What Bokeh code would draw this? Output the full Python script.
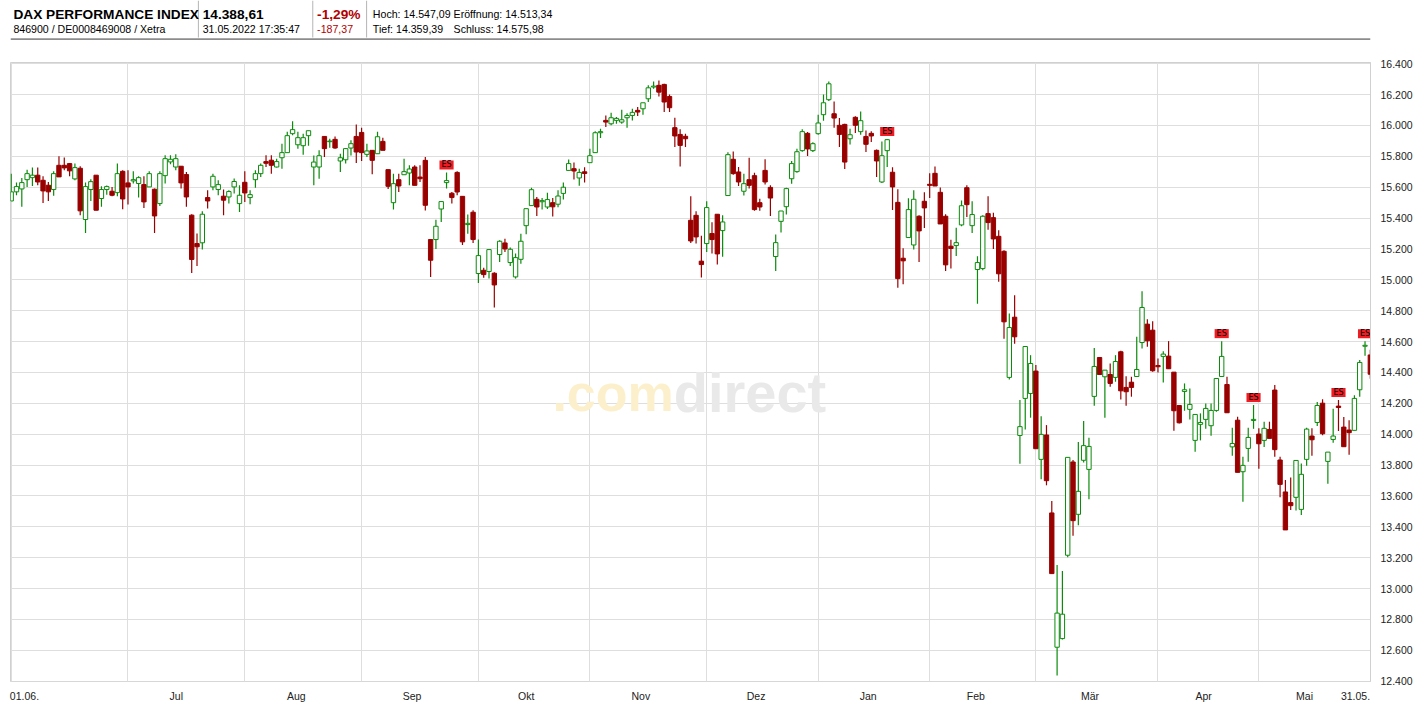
from bokeh.plotting import figure
from bokeh.models import Range1d, FixedTicker, ColumnDataSource
from bokeh.layouts import column
from bokeh.embed import file_html
from bokeh.resources import INLINE
from bokeh.core.properties import value

# ---------------- data (trading days 01.06.2021 - 31.05.2022) ----------------
open_ = [15511, 15570, 15589, 15649, 15662, 15678, 15645, 15613, 15585, 15742,
         15742, 15753, 15654, 15723, 15391, 15585, 15678, 15527, 15585, 15574,
         15565, 15703, 15628, 15641, 15624, 15617, 15602, 15587, 15494, 15675,
         15764, 15731, 15736, 15682, 15419, 15235, 15240, 15533, 15602, 15585,
         15542, 15537, 15602, 15494, 15632, 15533, 15649, 15688, 15766, 15775,
         15731, 15791, 15824, 15947, 15875, 15869, 15934, 15731, 15731, 15929,
         15895, 15910, 15770, 15778, 15854, 15929, 15955, 15813, 15839, 15817,
         15897, 15714, 15500, 15649, 15681, 15692, 15731, 15666, 15774, 15261,
         15261, 15459, 15630, 15561, 15696, 15541, 15358, 15438, 15041, 15062,
         15054, 15043, 15164, 15239, 15112, 15019, 15133, 15351, 15481, 15522,
         15506, 15472, 15500, 15490, 15560, 15709, 15720, 15660, 15700, 15759,
         15824, 15953, 16033, 16011, 16033, 16022, 16050, 16065, 16098, 16108,
         16173, 16249, 16260, 16266, 16188, 15986, 15942, 15930, 15386, 15418,
         15121, 15235, 15300, 15425, 15319, 15546, 15781, 15699, 15574, 15649,
         15675, 15500, 15709, 15599, 15151, 15379, 15474, 15655, 15701, 15837,
         15949, 15837, 15947, 16070, 16167, 16076, 16001, 16007, 15914, 16053,
         15960, 15929, 15949, 15839, 15634, 15837, 15697, 15502, 15140, 15274,
         15226, 15412, 15509, 15619, 15690, 15567, 15412, 15218, 15222, 15356,
         15597, 15351, 15067, 15073, 15429, 15403, 15282, 15185, 14368, 14758,
         13992, 14232, 14264, 14409, 13837, 13995, 13490, 12620, 12676, 13216,
         13820, 13481, 13831, 13772, 14245, 14497, 14372, 14387, 14368, 14534,
         14303, 14337, 14374, 14594, 14713, 14674, 14445, 14504, 14506, 14402,
         14186, 14277, 14161, 13960, 14064, 14096, 14055, 14154, 14374, 14322,
         13918, 14091, 13757, 13908, 14089, 14001, 13960, 14031, 14286, 13833,
         13626, 13557, 13591, 13513, 13837, 13988, 14076, 14201, 13824, 13966,
         14182, 14046, 14027, 14025, 14288, 14570, 14513.34]
high_ = [15688, 15630, 15660, 15714, 15727, 15727, 15671, 15634, 15703, 15800,
         15792, 15757, 15753, 15736, 15630, 15652, 15678, 15606, 15611, 15602,
         15753, 15710, 15710, 15703, 15671, 15671, 15703, 15591, 15703, 15807,
         15807, 15813, 15736, 15699, 15425, 15300, 15445, 15580, 15688, 15645,
         15585, 15580, 15656, 15613, 15703, 15580, 15710, 15753, 15807, 15807,
         15785, 15882, 15960, 16027, 15960, 15947, 15966, 15806, 15839, 15929,
         15914, 15929, 15817, 15854, 15904, 16007, 15985, 15882, 15839, 15960,
         15921, 15714, 15688, 15688, 15785, 15742, 15742, 15742, 15796, 15261,
         15390, 15507, 15696, 15569, 15703, 15541, 15423, 15451, 15261, 15079,
         15200, 15049, 15256, 15267, 15209, 15170, 15299, 15461, 15597, 15537,
         15530, 15565, 15530, 15580, 15630, 15779, 15760, 15720, 15730, 15850,
         15962, 15979, 16065, 16083, 16055, 16102, 16080, 16108, 16119, 16147,
         16260, 16285, 16292, 16270, 16201, 16050, 15975, 15947, 15541, 15444,
         15285, 15509, 15373, 15425, 15418, 15826, 15832, 15731, 15688, 15791,
         15694, 15526, 15781, 15612, 15293, 15446, 15597, 15770, 15850, 15975,
         15958, 15891, 16070, 16201, 16285, 16156, 16048, 16011, 15979, 16059,
         16091, 15968, 15962, 15845, 15897, 15912, 15729, 15587, 15205, 15528,
         15580, 15418, 15567, 15690, 15735, 15599, 15425, 15259, 15338, 15514,
         15612, 15509, 15153, 15418, 15541, 15435, 15321, 15192, 14782, 14901,
         14221, 14568, 14512, 14448, 14117, 14059, 13567, 13153, 13114, 13850,
         13833, 13949, 14085, 13977, 14558, 14497, 14415, 14458, 14512, 14540,
         14376, 14372, 14631, 14926, 14745, 14732, 14491, 14538, 14603, 14402,
         14186, 14329, 14296, 14128, 14135, 14199, 14199, 14361, 14603, 14372,
         14042, 14113, 13854, 14042, 14189, 14038, 14081, 14081, 14318, 13854,
         13703, 13720, 13830, 13811, 14042, 14038, 14208, 14227, 13884, 14165,
         14221, 14111, 14091, 14253, 14480, 14603, 14547.09]
low_ = [15511, 15548, 15473, 15602, 15608, 15613, 15498, 15511, 15544, 15667,
        15710, 15671, 15645, 15419, 15304, 15511, 15451, 15473, 15552, 15542,
        15542, 15457, 15488, 15624, 15533, 15466, 15602, 15304, 15479, 15624,
        15749, 15710, 15591, 15473, 15045, 15089, 15196, 15462, 15580, 15548,
        15419, 15494, 15559, 15440, 15505, 15490, 15596, 15667, 15731, 15688,
        15727, 15720, 15824, 15936, 15850, 15811, 15869, 15612, 15655, 15796,
        15856, 15850, 15699, 15753, 15806, 15757, 15770, 15796, 15684, 15817,
        15839, 15589, 15455, 15569, 15681, 15612, 15612, 15634, 15450, 15019,
        15200, 15375, 15591, 15494, 15548, 15226, 15299, 15239, 14980, 15013,
        15009, 14821, 15116, 15181, 15090, 15008, 15105, 15295, 15481, 15414,
        15455, 15459, 15410, 15470, 15520, 15709, 15650, 15610, 15630, 15759,
        15824, 15919, 15990, 16001, 16011, 16011, 15986, 16033, 16061, 16070,
        16152, 16238, 16188, 16087, 16087, 15860, 15735, 15860, 15239, 15235,
        15015, 15181, 15170, 15099, 15149, 15546, 15681, 15608, 15546, 15591,
        15448, 15448, 15617, 15414, 15058, 15306, 15423, 15623, 15694, 15830,
        15802, 15828, 15940, 16031, 16158, 15986, 15861, 15718, 15876, 15951,
        15940, 15828, 15893, 15666, 15627, 15731, 15453, 14948, 14972, 15274,
        15196, 15116, 15336, 15530, 15608, 15362, 15058, 15073, 15155, 15348,
        15407, 15304, 14845, 15062, 15325, 15200, 14987, 14618, 14355, 14586,
        13809, 14031, 14107, 13906, 13708, 13669, 13097, 12437, 12670, 13203,
        13343, 13410, 13816, 13578, 14184, 14387, 14107, 14307, 14340, 14225,
        14184, 14243, 14374, 14555, 14566, 14404, 14400, 14335, 14424, 14023,
        14070, 14152, 14096, 13887, 13960, 14035, 13990, 14145, 14374, 14139,
        13861, 13753, 13563, 13822, 14035, 13777, 13917, 13973, 13854, 13591,
        13380, 13509, 13505, 13477, 13796, 13861, 14053, 13994, 13679, 13945,
        14020, 13919, 13867, 14025, 14243, 14508, 14359.39]
close_ = [15570, 15604, 15630, 15688, 15678, 15634, 15576, 15570, 15688, 15667,
          15725, 15706, 15727, 15447, 15604, 15636, 15451, 15585, 15604, 15548,
          15688, 15524, 15602, 15649, 15662, 15505, 15688, 15414, 15688, 15785,
          15781, 15785, 15628, 15537, 15132, 15214, 15425, 15511, 15671, 15617,
          15516, 15572, 15637, 15548, 15563, 15552, 15688, 15742, 15755, 15742,
          15766, 15824, 15934, 15973, 15921, 15921, 15966, 15763, 15804, 15850,
          15899, 15854, 15791, 15850, 15882, 15828, 15824, 15835, 15774, 15927,
          15839, 15606, 15623, 15608, 15701, 15718, 15612, 15655, 15483, 15127,
          15347, 15507, 15643, 15533, 15569, 15246, 15366, 15261, 15157, 15034,
          15196, 14967, 15250, 15200, 15198, 15144, 15250, 15461, 15584, 15472,
          15513, 15520, 15473, 15543, 15600, 15753, 15705, 15696, 15689, 15804,
          15953, 15960, 16022, 16050, 16046, 16037, 16065, 16085, 16087, 16147,
          16244, 16255, 16216, 16152, 16115, 15932, 15871, 15914, 15252, 15278,
          15099, 15468, 15261, 15168, 15375, 15811, 15688, 15634, 15623, 15612,
          15455, 15472, 15634, 15530, 15241, 15446, 15591, 15753, 15830, 15960,
          15848, 15882, 16016, 16147, 16270, 16048, 15942, 15763, 15940, 16001,
          16031, 15878, 15932, 15770, 15804, 15908, 15602, 15008, 15123, 15455,
          15522, 15317, 15466, 15612, 15608, 15362, 15097, 15203, 15241, 15480,
          15487, 15423, 15112, 15412, 15371, 15265, 15039, 14728, 14691, 14631,
          14049, 14568, 14458, 13906, 13999, 13699, 13097, 12841, 12834, 13850,
          13440, 13630, 13926, 13921, 14439, 14387, 14415, 14329, 14471, 14281,
          14275, 14303, 14419, 14821, 14605, 14411, 14437, 14519, 14424, 14152,
          14074, 14288, 14193, 14128, 14076, 14167, 14154, 14361, 14504, 14139,
          13940, 13753, 13798, 13979, 14096, 13938, 14038, 13973, 13900, 13675,
          13380, 13537, 13830, 13740, 14033, 13964, 14186, 14003, 13884, 13988,
          14173, 13919, 14010, 14232, 14465, 14576, 14388.61]

month_start_idx = [0, 22, 44, 66, 88, 109, 131, 152, 173, 193, 216, 235]
date_labels = ["01.06.", "Jul", "Aug", "Sep", "Okt", "Nov", "Dez", "Jan", "Feb", "Mär",
               "Apr", "Mai", "31.05."]
date_label_pos = [2.5, 31.1, 53.7, 75.5, 97.0, 118.6, 140.3, 161.4, 181.7, 203.2,
                  224.6, 243.6, 253.2]
y_ticks = list(range(12400, 16401, 200))
y_tick_labels = [f"{v:,}".replace(",", ".") for v in y_ticks]
es_idx = [82, 165, 228, 234, 250, 255]

title_name = "DAX PERFORMANCE INDEX"
title_ids = "846900 / DE0008469008 / Xetra"
last_price = "14.388,61"
last_time = "31.05.2022 17:35:47"
chg_pct = "-1,29%"
chg_abs = "-187,37"
stat_row1 = ["Hoch: 14.547,09", "Eröffnung: 14.513,34"]
stat_row2 = ["Tief: 14.359,39", "Schluss: 14.575,98"]

GREEN = "#0b8a0b"
RED = "#990000"
GRID = "#dedede"
FONT = "Liberation Sans"

# ---------------- header (page pixels 0..1415 x 0..40) ----------------
W = 1415
h = figure(width=W, height=40, x_range=Range1d(0, W), y_range=Range1d(40, 0),
           x_axis_type=None, y_axis_type=None, toolbar_location=None,
           output_backend="svg", min_border=0)
h.outline_line_color = None
h.segment(x0=[195.5, 314.5, 370.5], y0=[0, 0, 0], x1=[195.5, 314.5, 370.5], y1=[37, 37, 37],
          line_color="#b4b4b4", line_width=1)
h.segment(x0=[0], y0=[38.8], x1=[W], y1=[38.8], line_color="#8c8c8c", line_width=2)
h.text(x=[3], y=[13.5], text=[title_name], text_font=value(FONT), text_font_size="13.7px",
       text_font_style="bold", text_baseline="alphabetic", text_color="#000000")
h.text(x=[200], y=[13.5], text=[last_price], text_font=value(FONT), text_font_size="13.7px",
       text_font_style="bold", text_baseline="alphabetic", text_color="#000000")
h.text(x=[319], y=[13.5], text=[chg_pct], text_font=value(FONT), text_font_size="13.7px",
       text_font_style="bold", text_baseline="alphabetic", text_color="#b00000")
h.text(x=[3, 200], y=[28, 28], text=[title_ids, last_time], text_font=value(FONT),
       text_font_size="10.6px", text_baseline="alphabetic", text_color="#000000")
h.text(x=[319], y=[28], text=[chg_abs], text_font=value(FONT),
       text_font_size="10.6px", text_baseline="alphabetic", text_color="#b00000")
h.text(x=[377, 461], y=[13, 13], text=stat_row1, text_font=value(FONT),
       text_font_size="10.6px", text_baseline="alphabetic", text_color="#000000")
h.text(x=[377, 461], y=[28, 28], text=stat_row2, text_font=value(FONT),
       text_font_size="10.6px", text_baseline="alphabetic", text_color="#000000")

# ---------------- main chart ----------------
n = len(close_)
idx = list(range(n))
up = [c >= o for o, c in zip(open_, close_)]
src = ColumnDataSource(dict(
    x=idx, high=high_, low=low_,
    top=[max(o, c) for o, c in zip(open_, close_)],
    bottom=[min(o, c) for o, c in zip(open_, close_)],
    color=[GREEN if u else RED for u in up],
    fill=["#ffffff" if u else RED for u in up],
))

p = figure(width=W, height=664, x_range=Range1d(-0.13, 256.03),
           y_range=Range1d(12398, 16408), y_axis_location="right",
           toolbar_location=None, output_backend="svg",
           min_border_left=10, min_border_right=44, min_border_top=22, min_border_bottom=23)
p.outline_line_color = "#d0d0d0"
p.background_fill_color = "#ffffff"

# watermark
p.text(x=[124.8], y=[14268], text=[".com"], text_align="right", text_baseline="alphabetic",
       text_font=value(FONT), text_font_size="52px", text_font_style="bold",
       text_color="#fcf0cc")
p.text(x=[124.8], y=[14268], text=["direct"], text_align="left", text_baseline="alphabetic",
       text_font=value(FONT), text_font_size="56px", text_font_style="bold",
       text_color="#e9e9e9")

p.segment(x0="x", y0="low", x1="x", y1="high", line_color="color", line_width=1.2, source=src)
p.vbar(x="x", width=0.82, top="top", bottom="bottom", fill_color="fill",
       line_color="color", line_width=1, source=src)

es_src = ColumnDataSource(dict(x=es_idx, y=[high_[i] for i in es_idx], t=["ES"] * len(es_idx)))
p.text(x="x", y="y", text="t", source=es_src, text_align="center", text_baseline="bottom",
       y_offset=-3, text_font=value("DejaVu Sans"), text_font_size="8px",
       text_color="#000000", background_fill_color="#f01c24", padding=(2, 0))

# axes / grids
yax = p.yaxis[0]
yax.ticker = FixedTicker(ticks=y_ticks)
yax.major_label_overrides = {t: s for t, s in zip(y_ticks, y_tick_labels)}
yax.major_tick_line_color = None
yax.minor_tick_line_color = None
yax.axis_line_color = "#d0d0d0"
yax.major_label_standoff = 4
yax.major_label_text_font = FONT
yax.major_label_text_font_size = "10.5px"
yax.major_label_text_color = "#222222"

xax = p.xaxis[0]
xax.ticker = FixedTicker(ticks=date_label_pos)
xax.major_label_overrides = {t: s for t, s in zip(date_label_pos, date_labels)}
xax.major_tick_line_color = None
xax.minor_tick_line_color = None
xax.axis_line_color = None
xax.major_label_standoff = 2
xax.major_label_text_font = FONT
xax.major_label_text_font_size = "10.5px"
xax.major_label_text_color = "#222222"

p.ygrid.ticker = FixedTicker(ticks=y_ticks)
p.ygrid.grid_line_color = GRID
p.xgrid.ticker = FixedTicker(ticks=month_start_idx)
p.xgrid.grid_line_color = GRID

layout = column(h, p, spacing=0)
with open("out.html", "w", encoding="utf-8") as f:
    f.write(file_html(layout, INLINE))
